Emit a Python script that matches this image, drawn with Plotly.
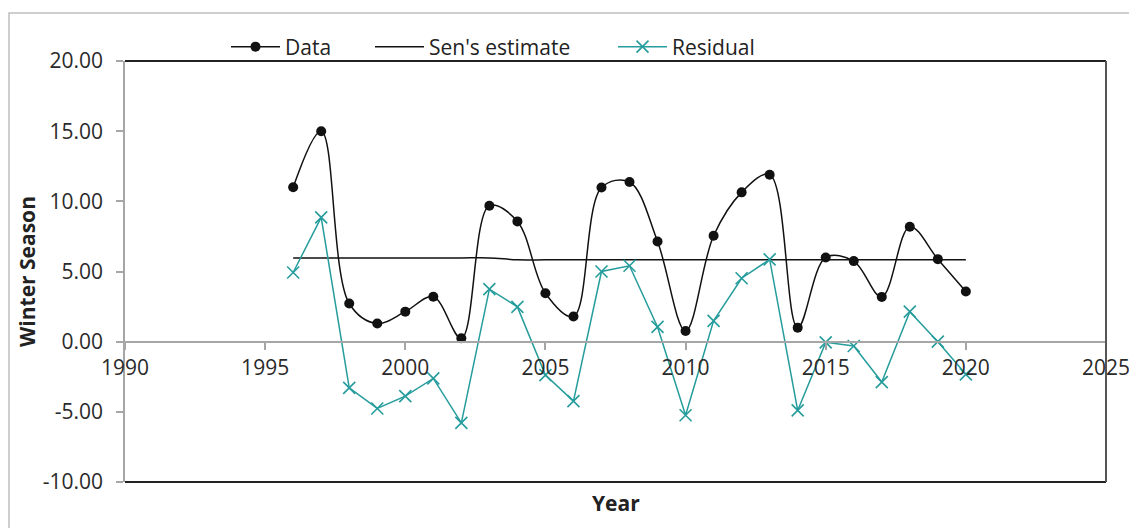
import plotly.graph_objects as go

years = list(range(1996, 2021))
data_vals = [11.0, 15.0, 2.72, 1.29, 2.14, 3.2, 0.24, 9.69, 8.57, 3.45, 1.79, 10.98, 11.38,
             7.14, 0.76, 7.55, 10.64, 11.9, 1.0, 6.0, 5.74, 3.19, 8.19, 5.88, 3.57]
sen_vals = [5.97] * 8 + [5.83] * 17
resid_vals = [4.93, 8.86, -3.29, -4.76, -3.88, -2.62, -5.79, 3.74, 2.48, -2.38, -4.24, 5.0, 5.41,
              1.05, -5.24, 1.48, 4.52, 5.86, -4.9, -0.05, -0.31, -2.88, 2.14, 0.0, -2.33]

x_ticks = [1990, 1995, 2000, 2005, 2010, 2015, 2020, 2025]
y_ticks = [-10, -5, 0, 5, 10, 15, 20]
y_ticktext = ["%.2f" % v for v in y_ticks]

FONT = "Open Sans"
FS = 21
TEAL = "#269c9c"
OFF = 8  # page body margin
W, H = 1137 - OFF, 528 - OFF
# plot area in page coordinates: x 125..1106, y 61..482
L, R, T, B = 125 - OFF, 1106 - OFF, 61 - OFF, 482 - OFF

def px(page_x):
    return (page_x - OFF - L) / (R - L)

def py(page_y):
    return (B - (page_y - OFF)) / (B - T)

fig = go.Figure()
fig.add_trace(go.Scatter(x=years, y=data_vals, name="Data", mode="lines+markers",
                         line=dict(color="#111111", width=1.5, shape="spline", smoothing=1.0),
                         marker=dict(symbol="circle", size=10, color="#111111"),
                         legend="legend", showlegend=True))
fig.add_trace(go.Scatter(x=years, y=sen_vals, name="Sen's estimate", mode="lines",
                         line=dict(color="#111111", width=1.5, shape="spline", smoothing=1.0),
                         legend="legend2", showlegend=True))
fig.add_trace(go.Scatter(x=years, y=resid_vals, name="Residual", mode="lines+markers",
                         line=dict(color=TEAL, width=1.5),
                         marker=dict(symbol="x-thin", size=12, color=TEAL,
                                     line=dict(color=TEAL, width=1.6)),
                         legend="legend3", showlegend=True))

leg_common = dict(orientation="h", yanchor="middle", y=py(47), xanchor="left",
                  font=dict(family=FONT, size=FS, color="#222222"),
                  bgcolor="rgba(0,0,0,0)", itemwidth=49)
fig.update_layout(
    width=W, height=H,
    margin=dict(l=L, r=W - R, t=T, b=H - B, autoexpand=False),
    showlegend=True,
    paper_bgcolor="white", plot_bgcolor="white",
    font=dict(family=FONT, size=FS, color="#333333"),
    legend=dict(x=px(226), **leg_common),
    legend2=dict(x=px(370), **leg_common),
    legend3=dict(x=px(613), **leg_common),
    xaxis=dict(range=[1990, 2025], tickvals=x_ticks, ticktext=[str(v) for v in x_ticks],
               anchor="free", position=1/3, showline=True, linecolor="#a6a6a6", linewidth=2,
               ticks="outside", ticklen=7, tickcolor="#a6a6a6", tickwidth=1.5,
               showgrid=False, zeroline=False,
               tickfont=dict(family=FONT, size=FS, color="#2a2a2a")),
    yaxis=dict(range=[-10, 20], tickvals=y_ticks, ticktext=y_ticktext,
               showline=True, linecolor="#a6a6a6", linewidth=1.5,
               ticks="outside", ticklen=7, tickcolor="#a6a6a6", tickwidth=1.5,
               ticklabelstandoff=9,
               showgrid=False, zeroline=False,
               tickfont=dict(family=FONT, size=FS, color="#2a2a2a")),
    annotations=[
        dict(text="<b>Year</b>", xref="paper", yref="paper", x=0.5, y=py(503),
             xanchor="center", yanchor="middle", showarrow=False,
             font=dict(family=FONT, size=FS, color="#222222")),
        dict(text="<b>Winter Season</b>", xref="paper", yref="paper", x=px(27), y=py(272),
             xanchor="center", yanchor="middle", showarrow=False, textangle=-90,
             font=dict(family=FONT, size=FS, color="#222222")),
    ],
    shapes=[
        dict(type="line", xref="paper", yref="paper", x0=0, x1=1, y0=1, y1=1,
             line=dict(color="#222222", width=2)),
        dict(type="line", xref="paper", yref="paper", x0=0, x1=1, y0=0, y1=0,
             line=dict(color="#222222", width=2)),
        dict(type="line", xref="paper", yref="paper", x0=1, x1=1, y0=0, y1=1,
             line=dict(color="#555555", width=2)),
        dict(type="rect", xref="paper", yref="paper", x0=px(9), x1=px(1160), y0=py(560), y1=py(13),
             line=dict(color="#bfbfbf", width=1.5), fillcolor="rgba(0,0,0,0)", layer="below"),
    ],
)

fig.write_html("out.html")
